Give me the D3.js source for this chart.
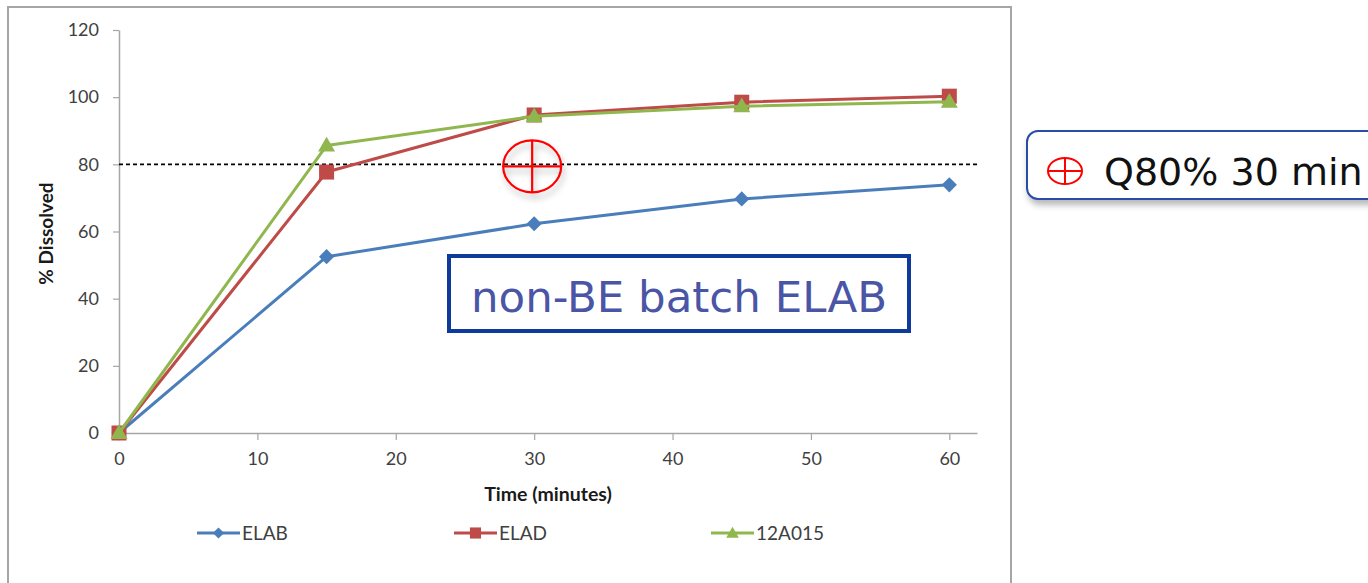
<!DOCTYPE html>
<html>
<head>
<meta charset="utf-8">
<script src="https://cdn.jsdelivr.net/npm/d3@7"></script>
<style>
  html, body { margin: 0; padding: 0; background: #ffffff; }
  svg { display: block; }
</style>
</head>
<body>
<svg id="chart" width="1368" height="583"></svg>
<script>
// Dissolution profiles: % dissolved over time (minutes)
const times = [0, 15, 30, 45, 60];
const elabValues = [0, 52.5, 62.3, 69.7, 73.9];
const eladValues = [0, 77.7, 94.7, 98.5, 100.3];
const a015Values = [0, 85.6, 94.3, 97.3, 98.6];
const seriesNames = ["ELAB", "ELAD", "12A015"];
const xTicks = [0, 10, 20, 30, 40, 50, 60];
const yTicks = [0, 20, 40, 60, 80, 100, 120];
const qLevel = 80;     // Q80% limit
const qTime = 30;      // at 30 min

const svg = d3.select("#chart");
const FONT = "Lato, 'Open Sans', sans-serif";
const VFONT = "'DejaVu Sans', Verdana, sans-serif";

const defs = svg.append("defs");
const sh = defs.append("filter").attr("id", "shadow")
  .attr("x", "-30%").attr("y", "-30%").attr("width", "160%").attr("height", "170%");
sh.append("feDropShadow").attr("dx", 2).attr("dy", 5).attr("stdDeviation", 3)
  .attr("flood-color", "#000").attr("flood-opacity", 0.28);

// chart frame
svg.append("rect").attr("x", 8).attr("y", 7).attr("width", 1003).attr("height", 600)
  .attr("fill", "#fff").attr("stroke", "#a6a6a6").attr("stroke-width", 2);

const x = d3.scaleLinear().domain([0, 62]).range([119, 977]);
const y = d3.scaleLinear().domain([0, 120]).range([433, 30]);

// axes
const yAxis = svg.append("g").attr("transform", `translate(${x(0)},0)`)
  .call(d3.axisLeft(y).tickValues(yTicks).tickSize(6).tickSizeOuter(0).tickPadding(14));
const xAxis = svg.append("g").attr("transform", `translate(0,${y(0)})`)
  .call(d3.axisBottom(x).tickValues(xTicks).tickSize(7).tickSizeOuter(0).tickPadding(12));
[yAxis, xAxis].forEach(g => {
  g.select(".domain").attr("stroke", "#a6a6a6").attr("stroke-width", 1.5);
  g.selectAll(".tick line").attr("stroke", "#a6a6a6").attr("stroke-width", 1.2);
  g.selectAll(".tick text").attr("fill", "#404040")
    .style("font-family", FONT).style("font-size", "18px");
});

// axis titles
svg.append("text").attr("transform", `translate(53,${y(60) + 2}) rotate(-90)`)
  .attr("text-anchor", "middle").attr("fill", "#1a1a1a")
  .style("font-family", FONT).style("font-weight", "bold").style("font-size", "19px")
  .text("% Dissolved");
svg.append("text").attr("x", 548).attr("y", 501)
  .attr("text-anchor", "middle").attr("fill", "#1a1a1a")
  .style("font-family", FONT).style("font-weight", "bold").style("font-size", "19.5px")
  .text("Time (minutes)");

// 80% reference line
svg.append("line").attr("x1", x(0)).attr("x2", 978).attr("y1", y(qLevel)).attr("y2", y(qLevel))
  .attr("stroke", "#000").attr("stroke-width", 1.6).attr("stroke-dasharray", "4,3");

// series
const series = [
  { name: seriesNames[0], values: elabValues, color: "#4a7ebb", shape: "diamond" },
  { name: seriesNames[1], values: eladValues, color: "#be4b48", shape: "square" },
  { name: seriesNames[2], values: a015Values, color: "#8fb74e", shape: "triangle" }
];

function markerPath(shape, scale) {
  if (shape === "diamond") return d3.symbol(d3.symbolSquare, 115 * scale)();
  if (shape === "square") return d3.symbol(d3.symbolSquare, 225 * scale)();
  return d3.symbol(d3.symbolTriangle, 125 * scale)();
}

const line = d3.line().x((d, i) => x(times[i])).y(d => y(d));

series.forEach(s => {
  const g = svg.append("g");
  g.append("path").datum(s.values).attr("d", line)
    .attr("fill", "none").attr("stroke", s.color).attr("stroke-width", 3)
    .attr("stroke-linejoin", "round");
  g.selectAll("path.m").data(s.values).join("path").attr("class", "m")
    .attr("d", markerPath(s.shape, 1))
    .attr("transform", (d, i) => `translate(${x(times[i])},${y(d) + (s.shape === "triangle" ? 1 : 0)})` + (s.shape === "diamond" ? " rotate(45)" : ""))
    .attr("fill", s.color);
});

// Q80% target marker
const q = svg.append("g").attr("transform", `translate(${x(qTime) - 2},${y(qLevel) + 2})`)
  .attr("filter", "url(#shadow)");
q.append("ellipse").attr("rx", 29).attr("ry", 26).attr("fill", "none")
  .attr("stroke", "#ff0000").attr("stroke-width", 2.2);
q.append("line").attr("x1", -29).attr("x2", 29).attr("stroke", "#ff0000").attr("stroke-width", 2.2);
q.append("line").attr("y1", -26).attr("y2", 26).attr("stroke", "#ff0000").attr("stroke-width", 2.2);

// legend
const legendX = [197, 454, 711];
series.forEach((s, i) => {
  const g = svg.append("g").attr("transform", `translate(${legendX[i]},533)`);
  g.append("line").attr("x1", 0).attr("x2", 43).attr("stroke", s.color).attr("stroke-width", 3);
  g.append("path").attr("d", markerPath(s.shape, 0.55))
    .attr("transform", `translate(21.5,${s.shape === "triangle" ? 1 : 0})` + (s.shape === "diamond" ? " rotate(45)" : ""))
    .attr("fill", s.color);
  g.append("text").attr("x", 45).attr("y", 6.5).attr("fill", "#404040")
    .style("font-family", FONT).style("font-size", "19px").text(s.name);
});

// non-BE annotation box
svg.append("rect").attr("x", 449).attr("y", 256).attr("width", 460).attr("height", 75)
  .attr("fill", "#fff").attr("stroke", "#0e3a9c").attr("stroke-width", 4);
svg.append("text").attr("x", 679).attr("y", 312).attr("text-anchor", "middle")
  .attr("fill", "#4a55a6").style("font-family", VFONT).style("font-size", "43.5px")
  .text("non-BE batch ELAB");

// Q80% key box
const k = svg.append("g");
k.append("rect").attr("x", 1027).attr("y", 131).attr("width", 400).attr("height", 68).attr("rx", 11)
  .attr("fill", "#fff").attr("stroke", "#2a4ca6").attr("stroke-width", 2).attr("filter", "url(#shadow)");
const ki = k.append("g").attr("transform", "translate(1065,171)");
ki.append("ellipse").attr("rx", 17).attr("ry", 13).attr("fill", "none").attr("stroke", "#ff0000").attr("stroke-width", 2);
ki.append("line").attr("x1", -17).attr("x2", 17).attr("stroke", "#ff0000").attr("stroke-width", 2);
ki.append("line").attr("y1", -13).attr("y2", 13).attr("stroke", "#ff0000").attr("stroke-width", 2);
k.append("text").attr("x", 1104).attr("y", 185).attr("fill", "#111")
  .style("font-family", VFONT).style("font-size", "38px").text("Q80% 30 min");
</script>
</body>
</html>
